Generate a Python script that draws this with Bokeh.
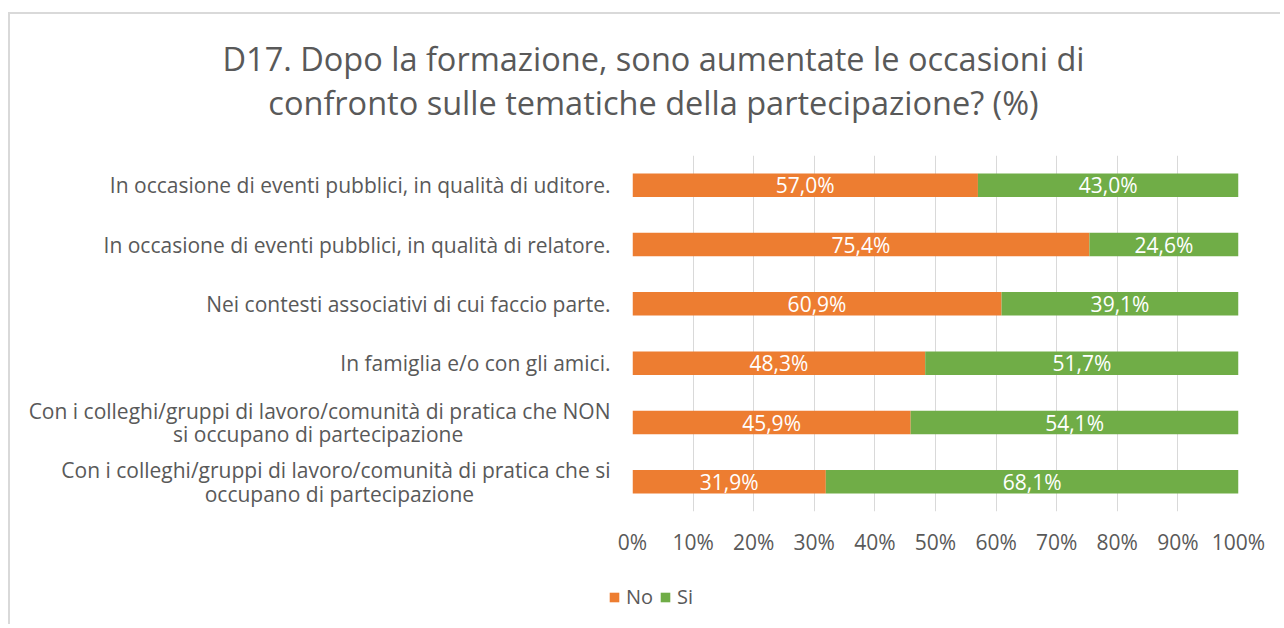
from bokeh.plotting import figure
from bokeh.layouts import column
from bokeh.models import FactorRange, FixedTicker, Legend, LegendItem, Label, ColumnDataSource
from bokeh.core.properties import value
from bokeh.embed import file_html
from bokeh.resources import INLINE

NB = "\u00a0"
categories = [
    "In occasione di eventi pubblici, in qualità di uditore.",
    "In occasione di eventi pubblici, in qualità di relatore.",
    "Nei contesti associativi di cui faccio parte.",
    "In famiglia e/o con gli amici.",
    "Con i colleghi/gruppi di lavoro/comunità di pratica che NON\nsi occupano di partecipazione" + NB * 27,
    "Con i colleghi/gruppi di lavoro/comunità di pratica che si\noccupano di partecipazione" + NB * 25,
]
no_vals = [57.0, 75.4, 60.9, 48.3, 45.9, 31.9]
si_vals = [43.0, 24.6, 39.1, 51.7, 54.1, 68.1]
series_names = ["No", "Si"]
tick_values = [0, 10, 20, 30, 40, 50, 60, 70, 80, 90, 100]
title_lines = ["D17. Dopo la formazione, sono aumentate le occasioni di",
               "confronto sulle tematiche della partecipazione? (%)"]

ORANGE = "#ED7D31"
GREEN = "#70AD47"
TXT = "#595959"
FONT = "Open Sans"
FS = "21px"
BORDER = "2px solid #d9d9d9"
W = 1272

def fmt(v):
    return f"{v:.1f}".replace(".", ",") + "%"

def bare(fig):
    fig.outline_line_color = None
    fig.background_fill_color = "white"
    fig.border_fill_color = "white"
    if "frame_align" in fig.properties():
        fig.frame_align = False
    return fig

# ---- title strip ----
tf = bare(figure(width=W, height=126, x_range=(0, 1), y_range=(0, 1),
                 x_axis_location=None, y_axis_location=None,
                 output_backend="svg", toolbar_location=None,
                 min_border=0))
tf.xgrid.grid_line_color = None
tf.ygrid.grid_line_color = None
tf.styles = {"border-top": BORDER, "border-left": BORDER}
for i, line in enumerate(title_lines):
    tf.add_layout(Label(x=643, y=82 - i * 44, x_units="screen", y_units="screen",
                        text=line, text_font=FONT, text_font_size="32.5px",
                        text_color=TXT, text_align="center", text_baseline="middle"))

# ---- main chart ----
no_left = [0] * len(no_vals)
si_left = list(no_vals)
si_right = [a + b for a, b in zip(no_vals, si_vals)]

src = ColumnDataSource(dict(
    cat=categories,
    no_left=no_left, no_right=no_vals,
    si_left=si_left, si_right=si_right,
    no_mid=[(a + b) / 2 for a, b in zip(no_left, no_vals)],
    si_mid=[(a + b) / 2 for a, b in zip(si_left, si_right)],
    no_txt=[fmt(v) for v in no_vals],
    si_txt=[fmt(v) for v in si_vals],
))

p = bare(figure(
    width=W, height=420,
    y_range=FactorRange(factors=list(reversed(categories))),
    x_range=(0, 100),
    output_backend="svg", toolbar_location=None,
    min_border_left=622, min_border_right=44,
    min_border_top=17, min_border_bottom=47,
))
p.styles = {"border-left": BORDER}

p.hbar(y="cat", left="no_left", right="no_right", height=0.395, source=src,
       fill_color=ORANGE, line_color=None)
p.hbar(y="cat", left="si_left", right="si_right", height=0.395, source=src,
       fill_color=GREEN, line_color=None)

p.text(x="no_mid", y="cat", text="no_txt", source=src, text_color="white",
       text_font=value(FONT), text_font_size=FS, text_align="center",
       text_baseline="middle")
p.text(x="si_mid", y="cat", text="si_txt", source=src, text_color="white",
       text_font=value(FONT), text_font_size=FS, text_align="center",
       text_baseline="middle")

p.xaxis.ticker = FixedTicker(ticks=tick_values)
p.xaxis.major_label_overrides = {t: f"{t}%" for t in tick_values}
p.xaxis.axis_line_color = None
p.xaxis.major_tick_line_color = None
p.xaxis.major_tick_out = 0
p.xaxis.major_tick_in = 0
p.xaxis.minor_tick_line_color = None
p.xaxis.major_label_text_font = FONT
p.xaxis.major_label_text_font_size = FS
p.xaxis.major_label_text_color = TXT
p.xaxis.major_label_standoff = 16

p.yaxis.axis_line_color = None
p.yaxis.major_tick_line_color = None
p.yaxis.major_tick_out = 0
p.yaxis.major_tick_in = 0
p.yaxis.minor_tick_line_color = None
p.yaxis.major_label_text_font = FONT
p.yaxis.major_label_text_font_size = FS
p.yaxis.major_label_text_color = TXT
p.yaxis.major_label_text_line_height = 0.84
p.yaxis.major_label_standoff = 22

p.xgrid.grid_line_color = "#D9D9D9"
p.xgrid.grid_line_width = 1
p.ygrid.grid_line_color = None

# ---- legend strip ----
lf = bare(figure(width=W, height=66, x_range=(0, 1), y_range=(0, 1),
                 x_axis_location=None, y_axis_location=None,
                 output_backend="svg", toolbar_location=None,
                 min_border=0))
lf.xgrid.grid_line_color = None
lf.ygrid.grid_line_color = None
lf.styles = {"border-left": BORDER}
# legend swatch renderers: one bar each, placed outside the strip's visible range
lr_no = lf.hbar(y=[-5], left=[0], right=[1], height=1,
                fill_color=ORANGE, line_color=None)
lr_si = lf.hbar(y=[-5], left=[0], right=[1], height=1,
                fill_color=GREEN, line_color=None)
legend = Legend(items=[LegendItem(label=series_names[0], renderers=[lr_no]),
                       LegendItem(label=series_names[1], renderers=[lr_si])],
                location=(598, 14), orientation="horizontal",
                border_line_color=None, background_fill_alpha=0,
                label_text_font=FONT, label_text_font_size="20px",
                label_text_color=TXT, glyph_width=12, glyph_height=12,
                spacing=6, label_standoff=6, padding=0, margin=0)
lf.add_layout(legend, "center")

layout = column(tf, p, lf, margin=(12, 0, 0, 8), spacing=0)

open("out.html", "w").write(file_html(layout, INLINE))
